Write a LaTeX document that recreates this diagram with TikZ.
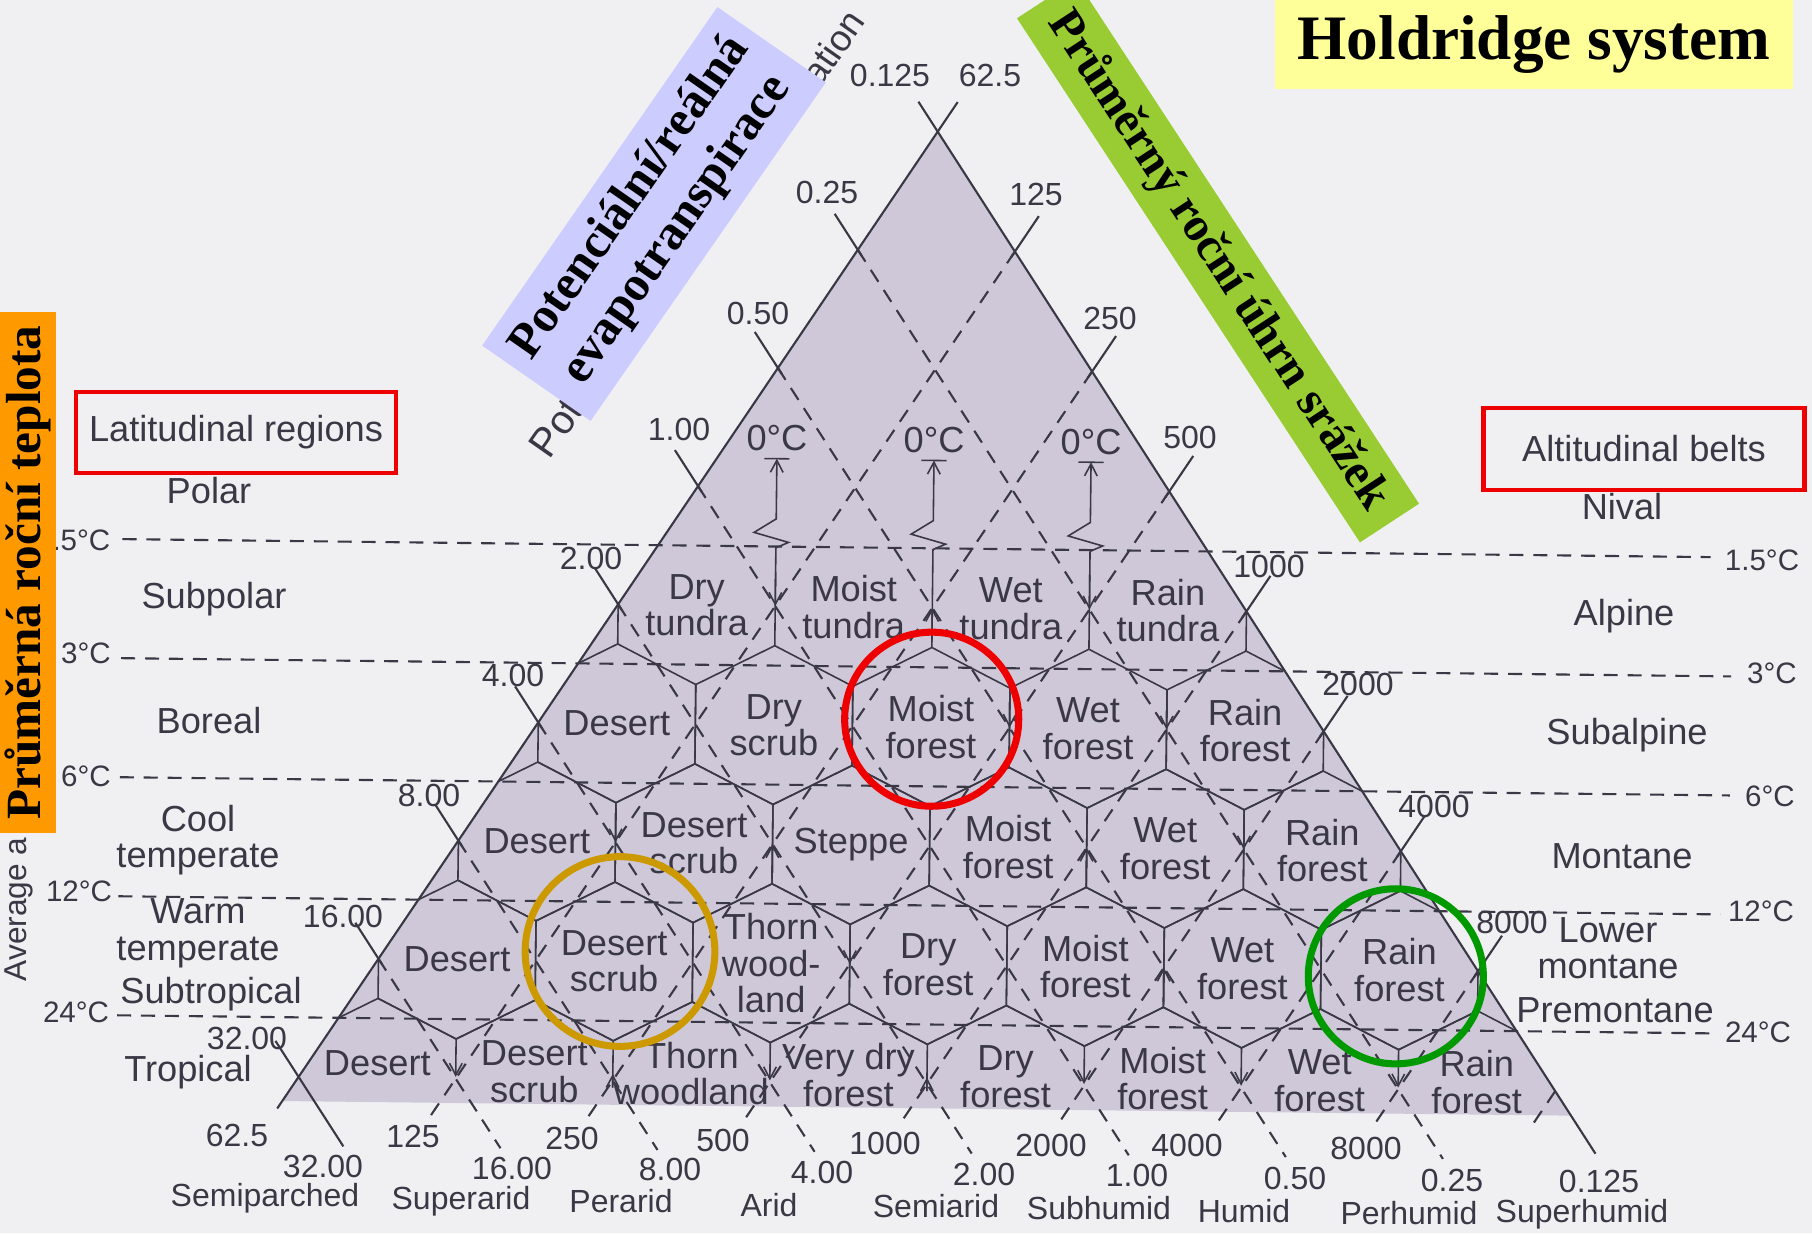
\documentclass[tikz,border=0pt]{standalone}
\usepackage{fontspec}
\setmainfont{Liberation Serif}
\setsansfont{Liberation Sans}
\usetikzlibrary{positioning}
\usetikzlibrary{arrows.meta}
\definecolor{paper}{RGB}{240,240,243}
\definecolor{lilac}{RGB}{206,200,217}
\definecolor{ink}{RGB}{58,56,68}
\definecolor{boxblue}{RGB}{204,204,255}
\definecolor{boxgreen}{RGB}{153,204,51}
\definecolor{boxorange}{RGB}{255,153,0}
\definecolor{boxyellow}{RGB}{255,255,153}
\definecolor{ringred}{RGB}{238,0,0}
\definecolor{ringgold}{RGB}{204,153,0}
\definecolor{ringgreen}{RGB}{0,153,0}
\tikzset{
  % life zone names and side labels
  zone/.style = {font=\sffamily\fontsize{10.3}{10.4}\selectfont, text=ink, align=center, inner sep=0pt},
  num/.style = {font=\sffamily\fontsize{9.1}{10}\selectfont, text=ink, inner sep=0pt},
  temp/.style = {font=\sffamily\fontsize{8.4}{10}\selectfont, text=ink, inner sep=0pt},
  % lines of the triangle
  guide/.style = {ink, line width=0.6pt, dash pattern=on 4pt off 2.8pt},
  hexline/.style = {ink, line width=0.45pt},
  sideline/.style = {ink, line width=0.6pt},
  % overlays
  banner/.style = {font=\bfseries\fontsize{14}{16}\selectfont, align=center, inner sep=0pt},
  redbox/.style = {draw=ringred, line width=1.3pt},
  ring/.style = {line width=2pt},
  >={Straight Barb[length=3.4pt,width=3.6pt]},
}
\begin{document}
\begin{tikzpicture}[x=0.01cm, y=-0.01cm]
\useasboundingbox (0,0) rectangle (1812,1233);
\clip (0,0) rectangle (1812,1233);
\fill[paper] (0,0) rectangle (1812,1233);

% what is left of the book's axis titles
\node[zone, font=\sffamily\fontsize{9}{10}\selectfont, rotate=90, anchor=base west] (avg) at (26,982) {Average a};
\node[zone, font=\sffamily\fontsize{11.5}{12}\selectfont, rotate=55] (pot) at (556,428) {Pot};
\node[zone, font=\sffamily\fontsize{10.5}{12}\selectfont, rotate=55] (ation) at (833,47) {ation};

% the triangle, in lattice units (a = hexagon half width)
\begin{scope}[shift={(616.8,723.3)}, rotate=-0.65, x=0.785cm, y=0.687cm]
  \fill[lilac] (4,8.66) -- (-4.204,-5.55) -- (12.204,-5.55) -- cycle;

  % biotemperature lines
  \foreach \ty/\tx in {2.598/13.9, 0.866/14.18, -0.866/14.18, -2.598/14.08, -4.33/13.97}
    \draw[guide] (-6.32,\ty) -- (\tx,\ty);
  % precipitation lines
  \foreach \n in {1,3,...,15}
    \draw[guide] ({(9+\n)/2},{0.866*(9-\n)}) -- ({\n-3.32},-5.75);
  % evapotranspiration ratio lines
  \foreach \m in {-5,-3,...,7}
    \draw[guide] ({(\m-1)/2},{0.866*(\m+1)}) -- ({\m+3.58},-6.2);

  % hexagons
  \begin{scope}
    \clip (4,8.66) -- (-4.204,-5.55) -- (12.204,-5.55) -- cycle;
    \foreach \k in {1,2,3} {
      \pgfmathtruncatemacro\jmax{7-\k}
      \foreach \j in {0,...,\jmax}
        \draw[hexline, shift={({2*\j+\k-3},{1.732*(\k-3)})}]
          (0,1.155) -- (1,0.577) -- (1,-0.577) -- (0,-1.155) -- (-1,-0.577) -- (-1,0.577) -- cycle;
    }
    \foreach \j in {0,...,7}
      \draw[hexline, shift={({2*\j-3},-5.196)}] (-1,0.577) -- (0,1.155) -- (1,0.577);
    \draw[hexline] (0,1.155) -- (0,2.309);
    \draw[hexline] (8,1.155) -- (8,2.309);
  \end{scope}

  % frost lines
  \foreach \x in {2,4,6} {
    \draw[hexline, ->] (\x,1.155) -- (\x,2.58) -- (\x+0.16,2.66) -- (\x-0.28,2.80) -- (\x,3.0) -- (\x,3.876);
    \draw[hexline] (\x-0.16,3.876) -- (\x+0.16,3.876);
    \node[zone, anchor=south] at (\x,3.98) {0°C};
  }
  % arrows on hexagon sides
  \foreach \ax/\ay/\ad in {2/1.732/1, 4/1.732/-1, 6/1.732/1, 5/0/1, 7/0/1, 0/-1.732/1, 2/-1.732/-1,
                            6/-1.732/-1, 8/-1.732/1, 3/-3.464/1, 7/-3.464/-1}
    \draw[hexline, ->] (\ax,{\ay+0.5*\ad}) -- (\ax,\ay);
  \foreach \ax in {-2,2,6,8,10}
    \draw[hexline, ->] (\ax,-4.619) -- (\ax,-5.17);
  \foreach \ax in {0,4} {
    \draw[hexline] (\ax,-4.619) -- (\ax,-5.3);
    \draw[hexline, ->] (\ax,-5.3) -- (\ax,-5.1);
  }

  % sides and ticks
  \draw[sideline] (4.25,9.093) -- (-4.268,-5.66);
  \draw[sideline] (3.75,9.093) -- (12.522,-6.1);
  \foreach \n in {1,3,...,13}
    \draw[sideline] ({(9+\n)/2-0.05},{0.866*(9-\n)-0.087}) -- ({(9+\n)/2+0.3},{0.866*(9-\n)+0.52});
  \foreach \m in {-5,-3,...,7}
    \draw[sideline] ({(\m-1)/2+0.05},{0.866*(\m+1)-0.087}) -- ({(\m-1)/2-0.3},{0.866*(\m+1)+0.52});
  \draw[sideline] (-4.3,-4.676) -- (-3.42,-6.2);

  % life zones
  \foreach \lx/\ly/\lt in {1/1.732/{Dry\\tundra}, 3/1.732/{Moist\\tundra}, 5/1.732/{Wet\\tundra}, 7/1.732/{Rain\\tundra},
      0/0/{Desert}, 2/0/{Dry\\scrub}, 4/0/{Moist\\forest}, 6/0/{Wet\\forest}, 8/0/{Rain\\forest},
      -1/-1.732/{Desert}, 1/-1.732/{Desert\\scrub}, 3/-1.732/{Steppe}, 5/-1.732/{Moist\\forest},
      7/-1.732/{Wet\\forest}, 9/-1.732/{Rain\\forest},
      -2/-3.464/{Desert}, 0/-3.464/{Desert\\scrub}, 2/-3.464/{Thorn\\wood-\\land}, 4/-3.464/{Dry\\forest},
      6/-3.464/{Moist\\forest}, 8/-3.464/{Wet\\forest}, 10/-3.464/{Rain\\forest},
      -3/-4.98/{Desert}, -1/-5.08/{Desert\\scrub}, 1/-5.08/{Thorn\\woodland}, 3/-5.08/{Very dry\\forest},
      5/-5.08/{Dry\\forest}, 7/-5.08/{Moist\\forest}, 9/-5.08/{Wet\\forest}, 11/-5.08/{Rain\\forest}}
    \node[zone] at (\lx,\ly) {\lt};
\end{scope}

% ratio ticks on the left side
\foreach \px/\py/\pt in {890/75/0.125, 827/192/0.25, 758/313/0.50, 679/429/1.00, 591/558/2.00,
                         513/675/4.00, 429/795/8.00, 343/916/16.00, 247/1038/32.00}
  \node[num] at (\px,\py) {\pt};
% precipitation ticks on the right side
\foreach \px/\py/\pt in {990/75/62.5, 1036/194/125, 1110/318/250, 1190/437/500, 1269/566/1000,
                         1358/684/2000, 1434/806/4000, 1512/922/8000}
  \node[num] at (\px,\py) {\pt};
% bottom scales
\foreach \px/\py/\pt in {237/1135/62.5, 413/1136/125, 572/1138/250, 723/1140/500, 885/1143/1000,
                         1051/1145/2000, 1187/1145/4000, 1366/1148/8000,
                         323/1166/32.00, 512/1168/16.00, 670/1169/8.00, 822/1172/4.00, 984/1174/2.00,
                         1137/1175/1.00, 1295/1178/0.50, 1452/1180/0.25, 1599/1181/0.125}
  \node[num] at (\px,\py) {\pt};
\foreach \px/\py/\pt in {265/1198/Semiparched, 461/1201/Superarid, 621/1201/Perarid, 769/1205/Arid,
                         936/1206/Semiarid, 1099/1208/Subhumid, 1244/1211/Humid, 1409/1213/Perhumid,
                         1582/1214/Superhumid}
  \node[num] at (\px,\py) {\pt};

% latitudinal regions
\node[zone, redbox, minimum width=3.2cm, minimum height=0.81cm] (latbox) at (236,432.5) {Latitudinal regions};
\foreach \px/\py/\pt in {209/491/Polar, 214/599/Subpolar, 209/721/Boreal, 198/840/{Cool\\temperate},
                         198/933/{Warm\\temperate}, 211/994/Subtropical, 188/1072/Tropical}
  \node[zone] at (\px,\py) {\pt};
\node[temp, anchor=east] at (111,540) {.5°C};
\foreach \px/\py/\pt in {86/653/3°C, 86/776/6°C, 79/891/12°C, 76/1012/24°C}
  \node[temp] at (\px,\py) {\pt};

% altitudinal belts
\node[zone, redbox, minimum width=3.21cm, minimum height=0.82cm] (altbox) at (1644,449) {Altitudinal belts};
\foreach \px/\py/\pt in {1622/507/Nival, 1624/616/Alpine, 1627/735/Subalpine, 1622/856/Montane,
                         1608/948/{Lower\\montane}, 1615/1010/Premontane}
  \node[zone] at (\px,\py) {\pt};
\foreach \px/\py/\pt in {1762/560/1.5°C, 1772/673/3°C, 1770/796/6°C, 1761/911/12°C, 1758/1032/24°C}
  \node[temp] at (\px,\py) {\pt};

% highlighted zones
\draw[ringred, ring] (931.7,719.2) circle[radius=0.87cm];
\draw[ringgold, ring] (620,951.5) circle[radius=0.948cm];
\draw[ringgreen, ring] (1395.8,976.3) circle[radius=0.875cm];

% banners
\node[banner, fill=boxorange, rotate=90, minimum width=5.21cm, minimum height=0.557cm] (tbox) at (27.85,572.5) {Průměrná roční teplota};
\node[banner, fill=boxblue, rotate=55.2, minimum width=4.12cm, minimum height=1.32cm] (petbox) at (654,214) {Potenciální/reálná\\evapotranspirace};
\node[banner, fill=boxgreen, rotate=-56.8, minimum width=6.26cm, minimum height=0.706cm, font=\bfseries\fontsize{13.6}{16}\selectfont] (pbox) at (1218,261) {Průměrný roční úhrn srážek};
\node[fill=boxyellow, inner sep=0pt, minimum width=5.17cm, minimum height=0.89cm, font=\bfseries\fontsize{18}{20}\selectfont] (title) at (1534,44.5) {Holdridge system};
\end{tikzpicture}
\end{document}
